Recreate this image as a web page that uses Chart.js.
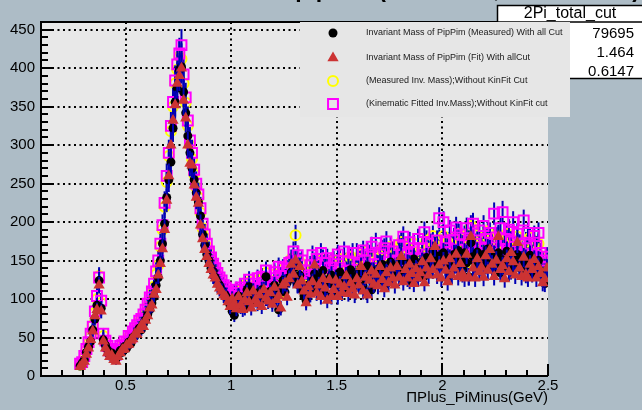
<!DOCTYPE html>
<html>
<head>
<meta charset="utf-8">
<script src="https://cdn.jsdelivr.net/npm/chart.js@4.4.0/dist/chart.umd.min.js"></script>
<style>
  html, body { margin: 0; padding: 0; background: #adbcc6; }
  #contenedor { width: 642px; height: 410px; }
</style>
</head>
<body>
<div id="contenedor"><canvas id="masaChart" width="642" height="410"></canvas></div>
<script>
// Binning del histograma (GeV)
const binInicio = 0.28;
const binAncho = 0.01;

// Invariant Mass of PipPim (Measured) With all Cut
const medidoConCorte = [
  13, 17, 21, 31, 38, 45, 60, 74, 92, 124,
  88, 47, 40, 34, 27, 30, 24, 22, 28, 33,
  31, 38, 36, 44, 42, 50, 52, 57, 62, 60,
  68, 73, 80, 86, 95, 103, 118, 128, 150, 172,
  198, 232, 255, 278, 322, 356, 374, 398, 402, 369,
  342, 312, 290, 270, 255, 238, 226, 208, 184, 170,
  158, 150, 140, 136, 128, 122, 118, 112, 108, 104,
  100, 92, 84, 79, 96, 104, 90, 99, 88, 112,
  116, 95, 104, 100, 108, 98, 112, 106, 129, 103,
  110, 97, 118, 105, 86, 114, 124, 109, 121, 128,
  135, 126, 142, 119, 131, 112, 104, 98, 118, 110,
  124, 133, 115, 128, 109, 137, 120, 104, 126, 131,
  118, 127, 108, 135, 122, 114, 130, 125, 138, 116,
  129, 121, 134, 140, 117, 126, 143, 131, 112, 136,
  128, 139, 124, 145, 133, 120, 137, 148, 126, 131,
  142, 135, 150, 129, 138, 146, 124, 140, 152, 133,
  141, 136, 148, 130, 154, 145, 139, 162, 150, 142,
  156, 148, 160, 142, 153, 131, 149, 158, 145, 163,
  152, 138, 160, 147, 129, 173, 155, 148, 161, 142,
  150, 158, 144, 165, 152, 139, 157, 146, 160, 134,
  151, 143, 162, 149, 137, 155, 146, 158, 141, 150,
  139, 152, 145, 157, 133, 148, 141, 150, 136, 128,
  120, 132
];

// Invariant Mass of PipPim (Fit) With allCut
const ajusteConCorte = [
  12, 15, 19, 28, 36, 47, 58, 78, 86, 118,
  84, 45, 36, 30, 25, 27, 21, 19, 25, 30,
  34, 35, 40, 41, 46, 48, 55, 54, 60, 66,
  64, 72, 78, 88, 92, 106, 112, 131, 146, 165,
  190, 228, 260, 300, 332, 352, 380, 390, 400, 358,
  335, 300, 276, 274, 248, 232, 224, 196, 178, 164,
  155, 146, 138, 131, 127, 119, 114, 110, 105, 103,
  96, 90, 100, 94, 87, 103, 92, 86, 98, 108,
  96, 88, 110, 99, 94, 105, 90, 112, 101, 97,
  108, 93, 115, 99, 104, 88, 118, 121, 102, 126,
  145, 132, 150, 118, 142, 123, 110, 95, 116, 106,
  122, 144, 108, 118, 103, 126, 114, 98, 125, 103,
  112, 124, 103, 119, 108, 116, 130, 107, 121, 113,
  105, 126, 118, 142, 110, 128, 105, 124, 136, 119,
  132, 117, 142, 125, 113, 134, 121, 140, 127, 118,
  142, 128, 155, 122, 138, 127, 145, 133, 120, 139,
  127, 134, 148, 121, 140, 131, 152, 138, 168, 131,
  144, 127, 149, 137, 122, 152, 131, 140, 158, 129,
  146, 133, 127, 158, 129, 181, 140, 127, 152, 135,
  141, 128, 156, 137, 164, 145, 129, 150, 181, 138,
  143, 126, 152, 135, 160, 148, 131, 173, 140, 129,
  154, 132, 127, 145, 138, 151, 127, 142, 133, 121,
  126, 140
];

// (Measured Inv. Mass);Without KinFit Cut
const medidoSinCorte = [
  15, 19, 24, 33, 42, 52, 66, 82, 100, 130,
  95, 52, 44, 37, 31, 33, 28, 26, 31, 37,
  36, 42, 41, 50, 47, 56, 58, 64, 70, 68,
  77, 82, 90, 97, 107, 116, 132, 144, 168, 190,
  220, 252, 286, 318, 350, 380, 398, 415, 412, 380,
  355, 325, 300, 282, 262, 245, 232, 212, 192, 180,
  168, 160, 150, 144, 137, 131, 126, 121, 116, 112,
  108, 102, 96, 104, 110, 99, 112, 105, 118, 110,
  122, 108, 116, 112, 124, 110, 126, 118, 134, 115,
  124, 112, 132, 118, 106, 128, 138, 125, 136, 144,
  152, 140, 183, 134, 148, 128, 120, 114, 132, 126,
  140, 148, 131, 145, 126, 152, 137, 122, 143, 148,
  134, 144, 126, 152, 139, 131, 148, 142, 155, 133,
  147, 138, 152, 158, 134, 144, 162, 149, 130, 155,
  146, 158, 142, 164, 151, 138, 156, 168, 144, 150,
  162, 154, 174, 148, 158, 166, 143, 160, 172, 152,
  160, 155, 168, 149, 176, 165, 158, 182, 170, 161,
  177, 168, 182, 162, 174, 150, 170, 179, 166, 185,
  173, 158, 182, 168, 148, 195, 176, 168, 183, 163,
  171, 180, 164, 188, 174, 160, 179, 167, 183, 154,
  172, 164, 185, 170, 157, 177, 167, 181, 162, 171,
  160, 174, 166, 180, 153, 170, 162, 172, 156, 146,
  138, 152
];

// (Kinematic Fitted Inv.Mass);Without KinFit cut
const ajusteSinCorte = [
  16, 18, 26, 35, 44, 55, 64, 84, 104, 128,
  98, 55, 46, 39, 33, 35, 30, 28, 34, 39,
  40, 45, 44, 52, 51, 58, 62, 66, 72, 74,
  80, 86, 94, 102, 110, 120, 136, 150, 172, 196,
  225, 260, 290, 325, 356, 384, 405, 419, 430, 392,
  362, 332, 306, 290, 268, 250, 236, 218, 198, 184,
  172, 162, 154, 146, 140, 134, 128, 124, 118, 115,
  110, 104, 100, 108, 112, 103, 115, 108, 120, 112,
  125, 111, 120, 114, 127, 113, 129, 121, 137, 118,
  127, 115, 135, 121, 142, 130, 140, 128, 139, 147,
  148, 162, 139, 157, 133, 150, 128, 137, 121, 144,
  157, 131, 152, 139, 160, 128, 147, 153, 134, 141,
  150, 133, 158, 140, 127, 162, 137, 149, 131, 160,
  138, 160, 145, 131, 163, 150, 134, 158, 168, 140,
  173, 145, 158, 139, 166, 175, 148, 136, 162, 150,
  149, 170, 158, 181, 146, 159, 174, 152, 166, 143,
  178, 152, 166, 187, 158, 145, 172, 160, 150, 176,
  205, 160, 200, 174, 166, 189, 158, 177, 193, 164,
  184, 170, 158, 192, 176, 163, 198, 172, 160, 189,
  167, 195, 178, 160, 186, 171, 211, 180, 163, 192,
  213, 178, 162, 190, 175, 200, 168, 185, 171, 158,
  202, 166, 186, 171, 158, 182, 169, 186, 160, 150,
  141, 155
];

// Ejes y textos
const ticksX = [0.5, 1, 1.5, 2, 2.5];
const ticksY = [0, 50, 100, 150, 200, 250, 300, 350, 400, 450];
const tituloX = 'ΠPlus_PiMinus(GeV)';
const tituloGrafica = 'Invariant Mass of pipPim (Measured, With all Cut)';
const etiquetasLeyenda = [
  'Invariant Mass of PipPim (Measured) With all Cut',
  'Invariant Mass of PipPim (Fit) With allCut',
  '(Measured Inv. Mass);Without KinFit Cut',
  '(Kinematic Fitted Inv.Mass);Without KinFit cut'
];
const tituloEstad = '2Pi_total_cut';
const valoresEstad = ['79695', '1.464', '0.6147'];

const fuente = '"Liberation Sans", Arial, Helvetica, sans-serif';

// Función para pasar un histograma a puntos {x, y}
function aPuntos(valores) {
  return valores.map((v, i) => ({ x: binInicio + binAncho * (i + 0.5), y: v }));
}

// Estilo de cada serie (índice 0 se dibuja encima)
const estiloMedido = { pointStyle: 'circle', pointRadius: 4.5, backgroundColor: '#000000', borderColor: '#000000', pointBorderWidth: 0 };
const estiloAjuste = { pointStyle: 'triangle', pointRadius: 6.5, backgroundColor: '#cc3333', borderColor: '#cc3333', pointBorderWidth: 0 };
const estiloMedidoSin = { pointStyle: 'circle', pointRadius: 5, backgroundColor: 'rgba(0,0,0,0)', borderColor: '#ffff00', pointBorderWidth: 2 };
const estiloAjusteSin = { pointStyle: 'rect', pointRadius: 7, backgroundColor: 'rgba(0,0,0,0)', borderColor: '#ff00ff', pointBorderWidth: 2 };

// Fondo, rejilla punteada y marco tipo ROOT
const fondoPlugin = {
  id: 'fondo',
  beforeDatasetsDraw(chart) {
    const { ctx, chartArea: a } = chart;
    const sx = chart.scales.x, sy = chart.scales.y;
    ctx.save();
    ctx.fillStyle = '#e8e8e8';
    ctx.fillRect(a.left, a.top, a.right - a.left, a.bottom - a.top);

    // rejilla
    ctx.strokeStyle = '#000000';
    ctx.lineWidth = 2;
    ctx.setLineDash([2, 3.5]);
    ticksX.forEach(v => {
      const px = Math.round(sx.getPixelForValue(v));
      if (px > a.left + 2 && px < a.right - 2) {
        ctx.beginPath(); ctx.moveTo(px, a.bottom); ctx.lineTo(px, a.top); ctx.stroke();
      }
    });
    ticksY.forEach(v => {
      const py = Math.round(sy.getPixelForValue(v));
      if (py > a.top + 2 && py < a.bottom - 2) {
        ctx.beginPath(); ctx.moveTo(a.left, py); ctx.lineTo(a.right, py); ctx.stroke();
      }
    });
    ctx.setLineDash([]);

    // marcas del eje Y (cada 10, mayores cada 50)
    ctx.lineWidth = 2;
    for (let v = 0; v <= sy.max; v += 10) {
      const py = Math.round(sy.getPixelForValue(v));
      const largo = (v % 50 === 0) ? 13 : 7;
      ctx.beginPath(); ctx.moveTo(a.left, py); ctx.lineTo(a.left + largo, py); ctx.stroke();
    }
    // marcas del eje X (cada 0.1, mayores cada 0.5)
    for (let k = 1; k <= 25; k++) {
      const v = k / 10;
      const px = Math.round(sx.getPixelForValue(v));
      const largo = (k % 5 === 0) ? 12 : 6;
      ctx.beginPath(); ctx.moveTo(px, a.bottom); ctx.lineTo(px, a.bottom - largo); ctx.stroke();
    }

    // marco
    ctx.lineWidth = 2;
    ctx.beginPath();
    ctx.moveTo(a.right, a.top);
    ctx.lineTo(a.left, a.top);
    ctx.lineTo(a.left, a.bottom);
    ctx.lineTo(a.right, a.bottom);
    ctx.stroke();
    ctx.restore();
  }
};

// Barras de error (sqrt(N)) antes de cada serie
const erroresPlugin = {
  id: 'errores',
  beforeDatasetDraw(chart, args) {
    const { ctx, chartArea: a } = chart;
    const sy = chart.scales.y;
    const datos = chart.data.datasets[args.index].data;
    ctx.save();
    ctx.beginPath();
    ctx.rect(a.left, a.top, a.right - a.left, a.bottom - a.top);
    ctx.clip();
    ctx.strokeStyle = '#0000b4';
    ctx.lineWidth = 2;
    args.meta.data.forEach((p, i) => {
      const v = datos[i].y;
      const e = Math.sqrt(v);
      ctx.beginPath();
      ctx.moveTo(p.x, sy.getPixelForValue(v + e));
      ctx.lineTo(p.x, sy.getPixelForValue(v - e));
      ctx.stroke();
    });
    ctx.restore();
  }
};

// Leyenda, caja de estadísticas y título
const cajasPlugin = {
  id: 'cajas',
  afterDraw(chart) {
    const ctx = chart.ctx;
    ctx.save();

    // título (casi fuera del lienzo)
    ctx.fillStyle = '#000000';
    ctx.font = 'bold 23px ' + fuente;
    ctx.textAlign = 'right';
    ctx.textBaseline = 'alphabetic';
    ctx.fillText(tituloGrafica, 640, -3);

    // caja de estadísticas
    ctx.fillStyle = '#ffffff';
    ctx.fillRect(497, 5, 148, 73);
    ctx.strokeStyle = '#000000';
    ctx.lineWidth = 1.5;
    ctx.strokeRect(497.5, 5.5, 148, 73);
    ctx.beginPath(); ctx.moveTo(497, 22); ctx.lineTo(642, 22); ctx.stroke();
    ctx.fillStyle = '#000000';
    ctx.font = '16px ' + fuente;
    ctx.textAlign = 'center';
    ctx.textBaseline = 'middle';
    ctx.fillText(tituloEstad, 570, 14);
    ctx.font = '15px ' + fuente;
    ctx.textAlign = 'right';
    valoresEstad.forEach((t, i) => ctx.fillText(t, 634, 34 + i * 19));

    // leyenda
    ctx.fillStyle = '#e6e6e6';
    ctx.fillRect(300, 22, 270, 95);
    const estilos = [estiloMedido, estiloAjuste, estiloMedidoSin, estiloAjusteSin];
    const filasY = [33, 58, 81, 104];
    estilos.forEach((est, i) => {
      ctx.fillStyle = est.backgroundColor;
      ctx.strokeStyle = est.borderColor;
      ctx.lineWidth = est.pointBorderWidth;
      Chart.helpers.drawPoint(ctx, {
        pointStyle: est.pointStyle,
        radius: est.pointRadius,
        rotation: 0,
        borderWidth: est.pointBorderWidth
      }, 333, filasY[i]);
      ctx.fillStyle = '#1a1a1a';
      ctx.font = '9px ' + fuente;
      ctx.textAlign = 'left';
      ctx.textBaseline = 'middle';
      ctx.fillText(etiquetasLeyenda[i], 366, filasY[i]);
    });
    ctx.restore();
  }
};

function inicializarGrafica() {
  const ctx = document.getElementById('masaChart');
  new Chart(ctx, {
    type: 'scatter',
    data: {
      datasets: [
        Object.assign({ label: etiquetasLeyenda[1], data: aPuntos(ajusteConCorte) }, estiloAjuste),
        Object.assign({ label: etiquetasLeyenda[0], data: aPuntos(medidoConCorte) }, estiloMedido),
        Object.assign({ label: etiquetasLeyenda[3], data: aPuntos(ajusteSinCorte) }, estiloAjusteSin),
        Object.assign({ label: etiquetasLeyenda[2], data: aPuntos(medidoSinCorte) }, estiloMedidoSin)
      ]
    },
    options: {
      responsive: false,
      animation: false,
      events: [],
      layout: { padding: { left: 0, right: 94, top: 22, bottom: 0 } },
      plugins: { legend: { display: false }, tooltip: { enabled: false } },
      scales: {
        x: {
          type: 'linear',
          min: 0.1,
          max: 2.5,
          afterFit(s) { s.height = 34; },
          afterBuildTicks(s) { s.ticks = ticksX.map(v => ({ value: v })); },
          grid: { display: false, drawTicks: false },
          border: { display: false },
          ticks: {
            color: '#000000',
            font: { family: fuente, size: 15 },
            padding: 1,
            maxRotation: 0,
            autoSkip: false,
            callback: v => String(v)
          },
          title: {
            display: true,
            text: tituloX,
            align: 'end',
            color: '#000000',
            font: { family: fuente, size: 15 },
            padding: { top: 0, bottom: 3 }
          }
        },
        y: {
          type: 'linear',
          min: 0,
          max: 460,
          afterFit(s) { s.width = 41; },
          afterBuildTicks(s) { s.ticks = ticksY.map(v => ({ value: v })); },
          grid: { display: false, drawTicks: false },
          border: { display: false },
          ticks: {
            color: '#000000',
            font: { family: fuente, size: 15 },
            padding: 6,
            autoSkip: false
          }
        }
      }
    },
    plugins: [fondoPlugin, erroresPlugin, cajasPlugin]
  });
}

document.addEventListener('DOMContentLoaded', () => {
  inicializarGrafica();
});
</script>
</body>
</html>
